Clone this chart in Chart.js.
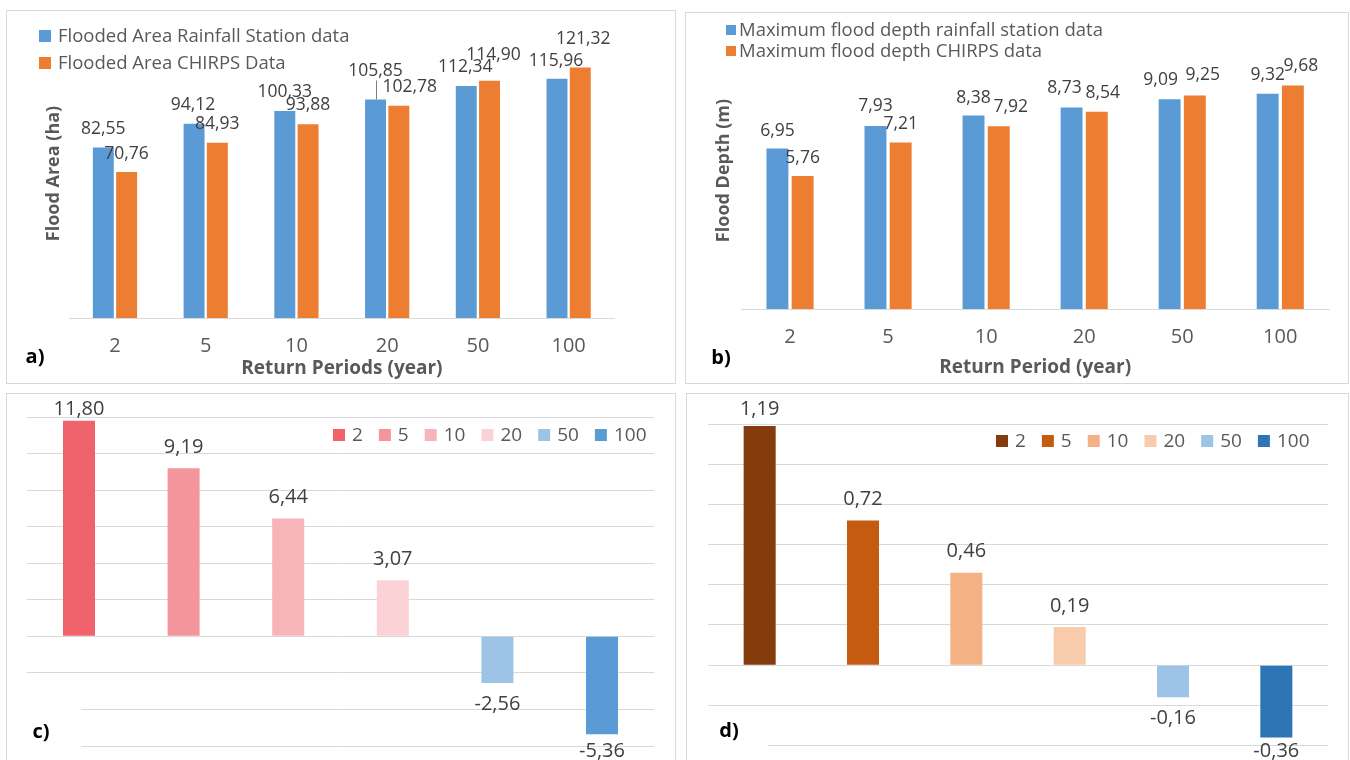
<!DOCTYPE html>
<html><head><meta charset="utf-8">
<script src="https://cdn.jsdelivr.net/npm/chart.js@4.4.1/dist/chart.umd.min.js"></script>
<style>
html,body{margin:0;padding:0;background:#fff;width:1350px;height:760px;overflow:hidden;}
.panel{position:absolute;box-sizing:border-box;border:1px solid #d9d9d9;}
canvas{position:absolute;}
</style></head><body>
<div class="panel" style="left:6px;top:10px;width:670px;height:374px"></div>
<div class="panel" style="left:685px;top:12px;width:664px;height:372px"></div>
<div class="panel" style="left:6px;top:393px;width:670px;height:372px"></div>
<div class="panel" style="left:686px;top:393px;width:663px;height:372px"></div>
<canvas id="ca" width="670" height="374" style="left:6px;top:10px"></canvas>
<canvas id="cb" width="664" height="372" style="left:685px;top:12px"></canvas>
<canvas id="cc" width="670" height="367" style="left:6px;top:393px"></canvas>
<canvas id="cd" width="663" height="367" style="left:686px;top:393px"></canvas>
<script>
const FONT = "'Open Sans','Noto Sans',sans-serif";
Chart.defaults.font.family = FONT;
Chart.defaults.color = '#595959';

// ---- data ----
const periods = ['2', '5', '10', '20', '50', '100'];
const areaStation = [82.55, 94.12, 100.33, 105.85, 112.34, 115.96];
const areaChirps = [70.76, 84.93, 93.88, 102.78, 114.90, 121.32];
const depthStation = [6.95, 7.93, 8.38, 8.73, 9.09, 9.32];
const depthChirps = [5.76, 7.21, 7.92, 8.54, 9.25, 9.68];
const areaDiff = [11.80, 9.19, 6.44, 3.07, -2.56, -5.36];
const depthDiff = [1.19, 0.72, 0.46, 0.19, -0.16, -0.36];

// ---- styles / label placement ----
const BLUE = '#5B9BD5', ORANGE = '#ED7D31';
const areaDiffColors = ['#F1636C', '#F4959B', '#F8B5B9', '#FBD3D6', '#9DC3E6', '#5B9BD5'];
const depthDiffColors = ['#843C0C', '#C55A11', '#F4B183', '#F8CBAD', '#9DC3E6', '#2E75B6'];
const areaLabelShift = [
  [[0,-19],[-1,-19],[0,-19],[0,-28,1],[-1,-19],[-1,-18]],
  [[0,-18],[0,-19],[0,-19],[11,-19],[4,-26],[3,-29]]
];
const depthLabelShift = [
  [[0,-18],[0,-20],[0,-18],[-7,-19],[-9,-19],[0,-19]],
  [[0,-18],[0,-19],[12,-19],[6,-19],[8,-20],[8,-20]]
];

function fmt(v) { return v.toFixed(2).replace('.', ','); }

function overlay(o) {
  return {
    id: 'overlay',
    afterDatasetsDraw(chart) {
      const ctx = chart.ctx;
      ctx.save();
      ctx.textAlign = 'center';
      ctx.textBaseline = 'middle';
      ctx.font = o.labelSize + 'px ' + FONT;
      chart.data.datasets.forEach((ds, di) => {
        chart.getDatasetMeta(di).data.forEach((el, i) => {
          const v = ds.data[i];
          let x = el.x, y;
          const s = o.shift ? o.shift[di][i] : null;
          if (s) { x += s[0]; y = el.y + s[1]; }
          else {
            y = v >= 0 ? el.y - o.gap : el.y + o.gap;
            y = Math.min(Math.max(y, o.minY), chart.height - o.bottomPad);
          }
          ctx.fillStyle = '#404040';
          ctx.fillText(fmt(v), x, y);
          if (s && s[2]) {
            ctx.strokeStyle = '#7f7f7f'; ctx.lineWidth = 1;
            const lx = Math.round(el.x) + 0.5;
            ctx.beginPath(); ctx.moveTo(lx, el.y); ctx.lineTo(lx, y + 9); ctx.stroke();
          }
        });
      });
      // legend
      const L = o.legend;
      ctx.font = L.size + 'px ' + FONT;
      ctx.textAlign = 'left';
      const items = L.items(chart);
      if (L.column) {
        items.forEach((it, k) => {
          const cy = L.ys[k];
          ctx.fillStyle = it.color;
          ctx.fillRect(L.x, cy - L.sq / 2, L.sq, L.sq);
          ctx.fillStyle = '#595959';
          ctx.fillText(it.text, L.tx, cy + 1);
        });
      } else {
        let x = L.x; const cy = L.y;
        items.forEach(it => {
          ctx.fillStyle = it.color;
          ctx.fillRect(x, cy - L.sq / 2, L.sq, L.sq);
          x += L.sq + L.gap;
          ctx.fillStyle = '#595959';
          ctx.fillText(it.text, x, cy + 1);
          x += ctx.measureText(it.text).width + L.spacing;
        });
      }
      if (o.mask) { ctx.fillStyle = '#fff'; ctx.fillRect(o.mask[0], o.mask[1], o.mask[2], o.mask[3]); }
      ctx.font = 'bold 20px ' + FONT;
      ctx.fillStyle = '#000';
      ctx.textAlign = 'center';
      ctx.fillText(o.letter, o.letterPos[0], o.letterPos[1]);
      ctx.restore();
    }
  };
}

const dsItems = chart => chart.data.datasets.map(d => ({ text: d.label, color: d.backgroundColor }));
const catItems = chart => chart.data.labels.map((l, i) => ({ text: l, color: chart.data.datasets[0].backgroundColor[i] }));

function groupedChart(id, labels, s1, s2, names, yMax, o) {
  return new Chart(document.getElementById(id), {
    type: 'bar',
    data: {
      labels: labels,
      datasets: [
        { label: names[0], data: s1, backgroundColor: BLUE, categoryPercentage: o.catPct, barPercentage: o.barPct },
        { label: names[1], data: s2, backgroundColor: ORANGE, categoryPercentage: o.catPct, barPercentage: o.barPct }
      ]
    },
    options: {
      responsive: false, animation: false, devicePixelRatio: 1,
      layout: { padding: { left: 0, right: o.right, top: o.top, bottom: 0 } },
      plugins: { legend: { display: false }, tooltip: { enabled: false } },
      scales: {
        x: {
          grid: { display: false, drawTicks: false },
          border: { display: true, color: '#d9d9d9', width: 1 },
          ticks: { font: { size: 20 }, color: '#595959', padding: o.tickPad },
          title: { display: true, text: o.xTitle, color: '#595959', font: { size: 19, weight: 'bold' }, padding: { top: 0, bottom: o.xTitlePad } },
          afterFit(s) { s.height = o.xHeight; }
        },
        y: {
          min: 0, max: yMax,
          grid: { display: false, drawTicks: false },
          border: { display: false },
          ticks: { display: false },
          title: { display: true, text: o.yTitle, color: '#595959', font: { size: 18, weight: 'bold' }, padding: { top: o.yTitlePad, bottom: 0 } },
          afterFit(s) { s.width = o.left; }
        }
      }
    },
    plugins: [overlay(o.ov)]
  });
}

function diffChart(id, labels, vals, colors, yMin, yMax, step, o) {
  return new Chart(document.getElementById(id), {
    type: 'bar',
    data: {
      labels: labels,
      datasets: [{ label: 'diff', data: vals, backgroundColor: colors, categoryPercentage: 1, barPercentage: o.barPct }]
    },
    options: {
      responsive: false, animation: false, devicePixelRatio: 1,
      layout: { padding: o.pad },
      plugins: { legend: { display: false }, tooltip: { enabled: false } },
      scales: {
        x: { display: false },
        y: {
          min: yMin, max: yMax,
          ticks: { display: false, stepSize: step },
          grid: { color: '#d9d9d9', lineWidth: 1, drawTicks: false },
          border: { display: false },
          afterFit(s) { s.width = 0; }
        }
      }
    },
    plugins: [overlay(o.ov)]
  });
}

groupedChart('ca', periods, areaStation, areaChirps,
  ['Flooded Area Rainfall Station data', 'Flooded Area CHIRPS Data'], 140, {
    catPct: 0.513, barPct: 0.9, left: 63.6, right: 62, top: 19,
    tickPad: 16, xTitle: 'Return Periods (year)', xTitlePad: 4, xHeight: 66,
    yTitle: 'Flood Area (ha)', yTitlePad: 37,
    ov: { labelSize: 17.5, shift: areaLabelShift, gap: 19, minY: 0, bottomPad: 0,
      legend: { column: true, items: dsItems, size: 18.5, x: 33, tx: 52, sq: 12, ys: [26, 53] },
      letter: 'a)', letterPos: [29, 347] }
  });

groupedChart('cb', periods, depthStation, depthChirps,
  ['Maximum flood depth rainfall station data', 'Maximum flood depth CHIRPS data'], 12, {
    catPct: 0.514, barPct: 0.87, left: 56, right: 19.7, top: 20,
    tickPad: 16, xTitle: 'Return Period (year)', xTitlePad: 5, xHeight: 75,
    yTitle: 'Flood Depth (m)', yTitlePad: 28,
    ov: { labelSize: 17.5, shift: depthLabelShift, gap: 19, minY: 0, bottomPad: 0,
      legend: { column: true, items: dsItems, size: 18.5, x: 41, tx: 54, sq: 10, ys: [18, 39] },
      letter: 'b)', letterPos: [36, 346] }
  });

diffChart('cc', periods, areaDiff, areaDiffColors, -6, 12, 2, {
  barPct: 0.306, pad: { left: 20.7, right: 21.7, top: 24, bottom: 14 },
  ov: { labelSize: 20, gap: 21, minY: 16, bottomPad: 9,
    legend: { column: false, items: catItems, size: 19, x: 327, y: 42, sq: 12, gap: 7, spacing: 16 },
    mask: [1, 295, 74, 72], letter: 'c)', letterPos: [35, 339] }
});

diffChart('cd', periods, depthDiff, depthDiffColors, -0.4, 1.2, 0.2, {
  barPct: 0.31, pad: { left: 22, right: 21, top: 31, bottom: 14.5 },
  ov: { labelSize: 20, gap: 21, minY: 16, bottomPad: 9,
    legend: { column: false, items: catItems, size: 19, x: 310, y: 48, sq: 12, gap: 7, spacing: 16 },
    mask: [1, 325, 81, 42], letter: 'd)', letterPos: [43, 338] }
});
</script>
</body></html>
